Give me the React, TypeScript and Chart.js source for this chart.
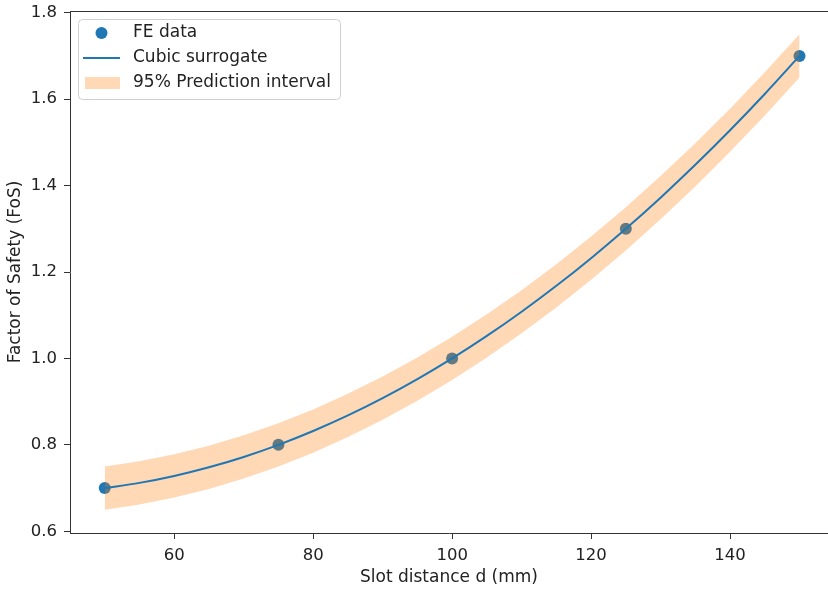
import React, { useEffect, useRef } from 'react';
import { Chart, registerables } from 'chart.js';

Chart.register(...registerables);

// ---- Data ----
const feX = [50, 75, 100, 125, 150];
const feY = [0.7, 0.8, 1.0, 1.3, 1.7];

const curveX = [50, 55, 60, 65, 70, 75, 80, 85, 90, 95, 100, 105, 110, 115, 120, 125, 130, 135, 140, 145, 150];
const curveY = [0.700, 0.712, 0.728, 0.748, 0.772, 0.800, 0.832, 0.868, 0.908, 0.952, 1.000, 1.052, 1.108, 1.168, 1.232, 1.300, 1.372, 1.448, 1.528, 1.612, 1.700];
const bandLower = [0.650, 0.662, 0.678, 0.698, 0.722, 0.750, 0.782, 0.818, 0.858, 0.902, 0.950, 1.002, 1.058, 1.118, 1.182, 1.250, 1.322, 1.398, 1.478, 1.562, 1.650];
const bandUpper = [0.750, 0.762, 0.778, 0.798, 0.822, 0.850, 0.882, 0.918, 0.958, 1.002, 1.050, 1.102, 1.158, 1.218, 1.282, 1.350, 1.422, 1.498, 1.578, 1.662, 1.750];

const xTicks = [60, 80, 100, 120, 140];
const yTicks = [0.6, 0.8, 1.0, 1.2, 1.4, 1.6, 1.8];

const seriesLabels = ['FE data', 'Cubic surrogate', '95% Prediction interval'];
const xTitle = 'Slot distance d (mm)';
const yTitle = 'Factor of Safety (FoS)';

const BLUE = '#1f77b4';
const BAND = 'rgba(255,127,14,0.3)';
const AXIS = '#333333';
const TEXT = '#222222';
const FONT = 'DejaVu Sans';
const TICK_SIZE = 16.5;
const LABEL_SIZE = 17;

const pts = (xs: number[], ys: number[]) => xs.map((x, i) => ({ x, y: ys[i] }));

const zeroPad = (s: any) => {
  s.paddingTop = 0;
  s.paddingBottom = 0;
  s.paddingLeft = 0;
  s.paddingRight = 0;
};

const framePlugin = {
  id: 'frameAndLegend',
  afterDraw(chart: any) {
    const { ctx, chartArea } = chart;
    const { left, top, right } = chartArea;
    ctx.save();
    // top spine
    ctx.strokeStyle = AXIS;
    ctx.lineWidth = 1;
    ctx.beginPath();
    ctx.moveTo(left, top + 0.5);
    ctx.lineTo(right, top + 0.5);
    ctx.stroke();

    // legend
    const bx = left + 8.5;
    const by = top + 8.5;
    const bw = 262;
    const bh = 80;
    const r = 4;
    ctx.beginPath();
    ctx.moveTo(bx + r, by);
    ctx.lineTo(bx + bw - r, by);
    ctx.arcTo(bx + bw, by, bx + bw, by + r, r);
    ctx.lineTo(bx + bw, by + bh - r);
    ctx.arcTo(bx + bw, by + bh, bx + bw - r, by + bh, r);
    ctx.lineTo(bx + r, by + bh);
    ctx.arcTo(bx, by + bh, bx, by + bh - r, r);
    ctx.lineTo(bx, by + r);
    ctx.arcTo(bx, by, bx + r, by, r);
    ctx.closePath();
    ctx.fillStyle = 'rgba(255,255,255,0.8)';
    ctx.fill();
    ctx.strokeStyle = '#d0d0d0';
    ctx.stroke();

    const rowY = [top + 22, top + 47, top + 72];
    const hx0 = left + 13;
    const hx1 = left + 50;
    // marker
    ctx.fillStyle = BLUE;
    ctx.beginPath();
    ctx.arc((hx0 + hx1) / 2, rowY[0], 6, 0, Math.PI * 2);
    ctx.fill();
    // line
    ctx.strokeStyle = BLUE;
    ctx.lineWidth = 2;
    ctx.beginPath();
    ctx.moveTo(hx0, rowY[1]);
    ctx.lineTo(hx1, rowY[1]);
    ctx.stroke();
    // band
    ctx.fillStyle = BAND;
    ctx.fillRect(hx0 + 2, rowY[2] - 6, hx1 - hx0 - 2, 12);

    ctx.fillStyle = TEXT;
    ctx.font = `${LABEL_SIZE}px "${FONT}"`;
    ctx.textBaseline = 'middle';
    ctx.textAlign = 'left';
    seriesLabels.forEach((t, i) => ctx.fillText(t, left + 63, rowY[i]));
    ctx.restore();
  },
};

export default function App() {
  const ref = useRef<HTMLCanvasElement | null>(null);

  useEffect(() => {
    if (!ref.current) return;
    Chart.defaults.font.family = FONT;
    const chart = new Chart(ref.current, {
      type: 'scatter',
      data: {
        datasets: [
          {
            label: seriesLabels[0],
            data: pts(feX, feY),
            backgroundColor: BLUE,
            borderColor: BLUE,
            pointRadius: 6,
            pointBorderWidth: 0,
            order: 4,
          } as any,
          {
            label: 'lower',
            data: pts(curveX, bandLower),
            showLine: true,
            borderColor: 'rgba(0,0,0,0)',
            borderWidth: 0,
            pointRadius: 0,
            fill: false,
            order: 3,
          },
          {
            label: seriesLabels[2],
            data: pts(curveX, bandUpper),
            showLine: true,
            borderColor: 'rgba(0,0,0,0)',
            borderWidth: 0,
            pointRadius: 0,
            backgroundColor: BAND,
            fill: '-1',
            order: 2,
          },
          {
            label: seriesLabels[1],
            data: pts(curveX, curveY),
            showLine: true,
            borderColor: BLUE,
            borderWidth: 2,
            pointRadius: 0,
            cubicInterpolationMode: 'monotone',
            fill: false,
            order: 1,
          },
        ],
      },
      options: {
        animation: false,
        responsive: false,
        devicePixelRatio: 1,
        layout: { autoPadding: false, padding: { top: 11, right: 0, left: 0, bottom: 0 } },
        plugins: {
          legend: { display: false },
          tooltip: { enabled: false },
        },
        scales: {
          x: {
            type: 'linear',
            min: 45,
            max: 154.1,
            afterBuildTicks: (s: any) => {
              s.ticks = xTicks.map((v) => ({ value: v }));
            },
            afterFit: (s: any) => {
              s.height = 57;
              zeroPad(s);
            },
            ticks: {
              font: { size: TICK_SIZE },
              color: TEXT,
              padding: 7,
              maxRotation: 0,
              autoSkip: false,
              callback: (v: any) => String(v),
            },
            grid: { drawOnChartArea: false, drawTicks: true, tickLength: 6, color: AXIS, tickColor: AXIS },
            border: { display: true, color: AXIS, width: 1 },
            title: { display: true, text: xTitle, font: { size: LABEL_SIZE }, color: TEXT, padding: { top: 2, bottom: 2 } },
          },
          y: {
            type: 'linear',
            min: 0.596,
            max: 1.804,
            afterBuildTicks: (s: any) => {
              s.ticks = yTicks.map((v) => ({ value: v }));
            },
            afterFit: (s: any) => {
              s.width = 70;
              zeroPad(s);
            },
            ticks: {
              font: { size: TICK_SIZE },
              color: TEXT,
              padding: 7,
              autoSkip: false,
              callback: (v: any) => Number(v).toFixed(1),
            },
            grid: { drawOnChartArea: false, drawTicks: true, tickLength: 6, color: AXIS, tickColor: AXIS },
            border: { display: true, color: AXIS, width: 1 },
            title: { display: true, text: yTitle, font: { size: LABEL_SIZE }, color: TEXT, padding: { top: 5, bottom: 4 } },
          },
        },
      },
      plugins: [framePlugin],
    });
    return () => chart.destroy();
  }, []);

  return (
    <div style={{ position: 'fixed', left: 0, top: 0, width: 828, height: 590, background: '#fff' }}>
      <canvas ref={ref} width={828} height={590} style={{ display: 'block' }} />
    </div>
  );
}
